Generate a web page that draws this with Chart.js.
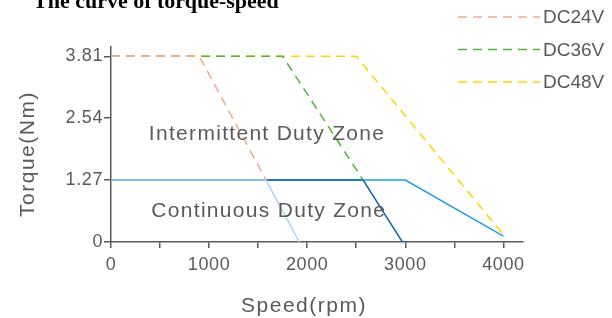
<!DOCTYPE html>
<html>
<head>
<meta charset="utf-8">
<script src="https://cdn.jsdelivr.net/npm/chart.js@4.4.1/dist/chart.umd.min.js"></script>
<style>
  html, body { margin: 0; padding: 0; background: #fff; }
  #torqueChart { display: block; }
</style>
</head>
<body>
<canvas id="torqueChart" width="612" height="318"></canvas>
<script>
// values
const dc24Speed = [0, 900, 1580];
const dc24Torque = [3.81, 3.81, 1.27];
const dc36Speed = [0, 1750, 2570];
const dc36Torque = [3.81, 3.81, 1.27];
const dc48Speed = [0, 2500, 4000];
const dc48Torque = [3.81, 3.81, 0.15];

const cont24Speed = [0, 1580, 1920];
const cont24Torque = [1.27, 1.27, 0];
const cont36Speed = [0, 2570, 2970];
const cont36Torque = [1.27, 1.27, 0];
const cont48Speed = [0, 3000, 4000];
const cont48Torque = [1.27, 1.27, 0.12];

const speedTicks = [0, 500, 1000, 1500, 2000, 2500, 3000, 3500, 4000];
const speedLabels = ['0', '', '1000', '', '2000', '', '3000', '', '4000'];
const torqueTicks = [0, 1.27, 2.54, 3.81];
const legendNames = ['DC24V', 'DC36V', 'DC48V'];

const gray = '#5a5a5a';
Chart.defaults.font.family = '"Liberation Sans", Arial, sans-serif';

function pts(xs, ys) {
  return xs.map((x, i) => ({ x: x, y: ys[i] }));
}

function dashed(label, xs, ys, color) {
  return { label: label, data: pts(xs, ys), borderColor: color, borderDash: [9, 6],
    borderWidth: 1.5, pointRadius: 0, tension: 0, fill: false, inLegend: true };
}
function solid(xs, ys, color) {
  return { label: '', data: pts(xs, ys), borderColor: color,
    borderWidth: 1.5, pointRadius: 0, tension: 0, fill: false, inLegend: false };
}

const extras = {
  id: 'extras',
  beforeDraw(chart) {
    chart.ctx.letterSpacing = '0.6px';
  },
  afterDraw(chart) {
    const ctx = chart.ctx;
    const xs = chart.scales.x, ys = chart.scales.y;
    ctx.save();
    // chart title, cut at the top like the reference
    ctx.letterSpacing = '0px';
    ctx.fillStyle = '#000';
    ctx.font = 'bold 22px "Liberation Serif", "Times New Roman", serif';
    ctx.textAlign = 'left';
    ctx.textBaseline = 'alphabetic';
    ctx.fillText('The curve of torque-speed', 33, 8);

    // zone labels
    ctx.fillStyle = gray;
    ctx.font = '21px "Liberation Sans", Arial, sans-serif';
    ctx.letterSpacing = '1.3px';
    ctx.fillText('Intermittent Duty Zone', xs.getPixelForValue(386), ys.getPixelForValue(2.09));
    ctx.fillText('Continuous Duty Zone', xs.getPixelForValue(411), ys.getPixelForValue(0.52));

    // axis titles
    ctx.letterSpacing = '1.5px';
    ctx.textAlign = 'center';
    ctx.textBaseline = 'middle';
    ctx.fillText('Speed(rpm)', 304, 306);
    ctx.save();
    ctx.translate(28, 154);
    ctx.rotate(-Math.PI / 2);
    ctx.fillText('Torque(Nm)', 0, 0);
    ctx.restore();

    // legend
    ctx.letterSpacing = '0px';
    ctx.font = '19px "Liberation Sans", Arial, sans-serif';
    ctx.textAlign = 'left';
    let row = 0;
    chart.data.datasets.forEach(ds => {
      if (!ds.inLegend) return;
      const y = 17 + row * 32.5;
      ctx.strokeStyle = ds.borderColor;
      ctx.lineWidth = 1.5;
      ctx.setLineDash(ds.borderDash);
      ctx.beginPath();
      ctx.moveTo(458, y);
      ctx.lineTo(540, y);
      ctx.stroke();
      ctx.setLineDash([]);
      ctx.fillStyle = gray;
      ctx.fillText(ds.label, 543, y + 1);
      row++;
    });
    ctx.restore();
  }
};

new Chart(document.getElementById('torqueChart'), {
  type: 'line',
  data: {
    datasets: [
      dashed(legendNames[0], dc24Speed, dc24Torque, '#f2a98c'),
      dashed(legendNames[1], dc36Speed, dc36Torque, '#55b33a'),
      dashed(legendNames[2], dc48Speed, dc48Torque, '#ffd500'),
      solid(cont24Speed, cont24Torque, '#a9d8f2'),
      solid(cont36Speed, cont36Torque, '#1566ab'),
      solid(cont48Speed, cont48Torque, '#1fa0e6')
    ]
  },
  options: {
    responsive: false,
    animation: false,
    devicePixelRatio: 1,
    layout: { padding: { top: 47, right: 89, left: 0, bottom: 0 } },
    plugins: { legend: { display: false }, tooltip: { enabled: false } },
    scales: {
      x: {
        type: 'linear',
        min: 0,
        max: 4200,
        afterFit: s => { s.height = 76; },
        afterBuildTicks: s => { s.ticks = speedTicks.map(v => ({ value: v })); },
        ticks: {
          autoSkip: false,
          maxRotation: 0,
          padding: 6,
          color: gray,
          font: { size: 18 },
          callback: (v, i) => speedLabels[i]
        },
        grid: { drawOnChartArea: false, drawTicks: true, tickLength: 6, color: gray, lineWidth: 1.5 },
        border: { display: true, color: gray, width: 1.5 }
      },
      y: {
        min: 0,
        max: 4,
        afterFit: s => { s.width = 111; },
        afterBuildTicks: s => { s.ticks = torqueTicks.map(v => ({ value: v })); },
        ticks: {
          padding: 1,
          color: gray,
          font: { size: 18 },
          callback: v => String(v)
        },
        grid: { drawOnChartArea: false, drawTicks: true, tickLength: 7, color: gray, lineWidth: 1.5 },
        border: { display: true, color: gray, width: 1.5 }
      }
    }
  },
  plugins: [extras]
});
</script>
</body>
</html>
